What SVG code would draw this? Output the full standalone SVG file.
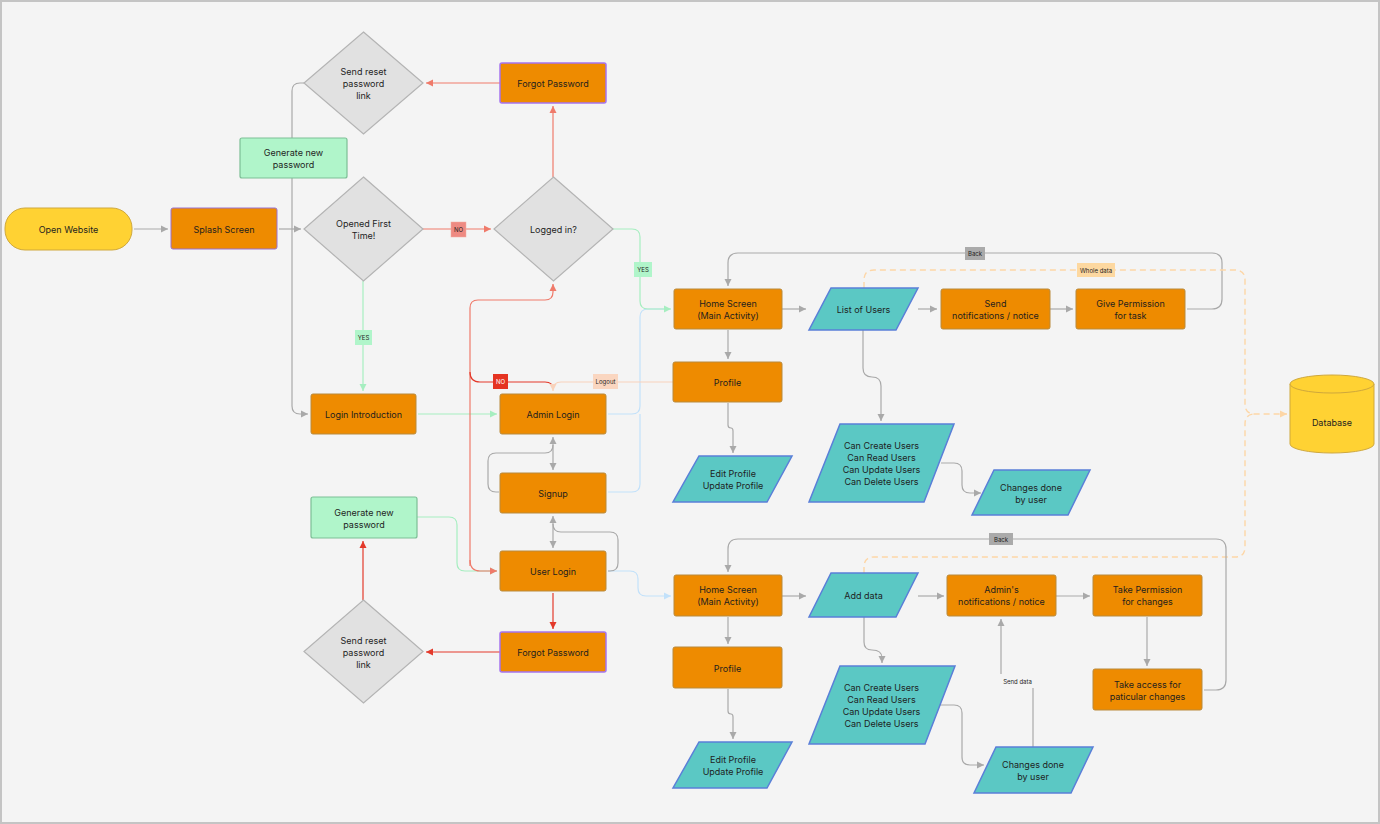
<svg xmlns="http://www.w3.org/2000/svg" width="1380" height="824" viewBox="0 0 1380 824">
<defs>
<style>
text{font-family:Inter,"Noto Sans","Liberation Sans",sans-serif;font-size:9px;fill:#1e1e1e;text-anchor:middle;dominant-baseline:central}
.lbl{font-size:6px}
.or{fill:#ee8b00;stroke:#b98a3c;stroke-width:1}
.pu{fill:#ee8b00;stroke:#a574ee;stroke-width:1.5}
.te{fill:#5bc8c4;stroke:#5a7fd8;stroke-width:1.5}
.di{fill:#e1e1e1;stroke:#b4b4b4;stroke-width:1.2}
.gr{fill:#b0f5ca;stroke:#7cbf95;stroke-width:1.2}
.ye{fill:#ffd233;stroke:#cfa83c;stroke-width:1}
.c{fill:none;stroke-width:1.2}
.g{stroke:#a9a9a9}
.s{stroke:#ef7a6a}
.r{stroke:#e3392a}
.n{stroke:#a6eec0}
.b{stroke:#c2e1fa}
.p{stroke:#f8d2bb}
.d{stroke:#fdd6a6;stroke-dasharray:6 4;stroke-width:1.4}
</style>
<marker id="ag" markerUnits="userSpaceOnUse" markerWidth="8" markerHeight="8" refX="7" refY="4" orient="auto-start-reverse"><path d="M0,0.5 L7,4 L0,7.5 z" fill="#a9a9a9"/></marker>
<marker id="as" markerUnits="userSpaceOnUse" markerWidth="8" markerHeight="8" refX="7" refY="4" orient="auto"><path d="M0,0.5 L7,4 L0,7.5 z" fill="#ef7a6a"/></marker>
<marker id="ar" markerUnits="userSpaceOnUse" markerWidth="8" markerHeight="8" refX="7" refY="4" orient="auto"><path d="M0,0.5 L7,4 L0,7.5 z" fill="#e3392a"/></marker>
<marker id="an" markerUnits="userSpaceOnUse" markerWidth="8" markerHeight="8" refX="7" refY="4" orient="auto"><path d="M0,0.5 L7,4 L0,7.5 z" fill="#a6eec0"/></marker>
<marker id="ab" markerUnits="userSpaceOnUse" markerWidth="8" markerHeight="8" refX="7" refY="4" orient="auto"><path d="M0,0.5 L7,4 L0,7.5 z" fill="#c2e1fa"/></marker>
<marker id="ap" markerUnits="userSpaceOnUse" markerWidth="8" markerHeight="8" refX="7" refY="4" orient="auto"><path d="M0,0.5 L7,4 L0,7.5 z" fill="#f8d2bb"/></marker>
<marker id="ad" markerUnits="userSpaceOnUse" markerWidth="8" markerHeight="8" refX="7" refY="4" orient="auto"><path d="M0,0.5 L7,4 L0,7.5 z" fill="#fdd6a6"/></marker>
</defs>
<rect x="1" y="1" width="1378" height="822" fill="#f4f4f4" stroke="#c4c4c4" stroke-width="2"/>

<g id="connectors">
<path class="c g" d="M134 229 H168" marker-end="url(#ag)"/>
<path class="c g" d="M279 229 H301" marker-end="url(#ag)"/>
<path class="c g" d="M304 83 H300 Q292 83 292 91 V406 Q292 414 300 414 H308" marker-end="url(#ag)"/>
<path class="c s" d="M423 229 H491" marker-end="url(#as)"/>
<path class="c n" d="M363 281 V391" marker-end="url(#an)"/>
<path class="c s" d="M553 177 V106" marker-end="url(#as)"/>
<path class="c s" d="M500 83 H426" marker-end="url(#as)"/>
<path class="c b" d="M608 414 H632 Q640 414 640 406 V317 Q640 309 648 309 H665"/>
<path class="c b" d="M608 492 H632 Q640 492 640 484 V414"/>
<path class="c n" d="M613 229 H632 Q640 229 640 237 V301 Q640 309 648 309 H671" marker-end="url(#an)"/>
<path class="c n" d="M418 414 H497" marker-end="url(#an)"/>
<path class="c b" d="M608 571 H630 Q638 571 638 579 V588 Q638 596 646 596 H671" marker-end="url(#ab)"/>
<path class="c n" d="M417 517 H449 Q457 517 457 525 V563 Q457 571 465 571 H497" marker-end="url(#an)"/>
<path class="c s" d="M470 566 V308 Q470 300 478 300 H545 Q553 300 553 292 V284" marker-end="url(#as)"/>
<path class="c s" d="M470 560 Q470 571 480 571 H497" marker-end="url(#as)"/>
<path class="c r" d="M470 372 Q470 382 480 382 H545 Q553 382 553 389"/>
<path class="c p" d="M673 382 H561 Q553 382 553 390 V391" marker-end="url(#ap)"/>
<path class="c g" d="M553 437 V470" marker-start="url(#ag)" marker-end="url(#ag)"/>
<path class="c g" d="M499 492 H496 Q488 492 488 484 V461 Q488 453 496 453 H545 Q553 453 553 445"/>
<path class="c g" d="M553 516 V548" marker-start="url(#ag)" marker-end="url(#ag)"/>
<path class="c g" d="M608 571 H610 Q618 571 618 563 V540 Q618 532 610 532 H561 Q553 532 553 524"/>
<path class="c r" d="M553 593 V629" marker-end="url(#ar)"/>
<path class="c r" d="M500 652 H426" marker-end="url(#ar)"/>
<path class="c r" d="M363 600 V541" marker-end="url(#ar)"/>

<path class="c g" d="M782 309 H806" marker-end="url(#ag)"/>
<path class="c g" d="M918 309 H937" marker-end="url(#ag)"/>
<path class="c g" d="M1050 309 H1073" marker-end="url(#ag)"/>
<path class="c g" d="M728 330 V359" marker-end="url(#ag)"/>
<path class="c g" d="M728 403 V425 Q728 428 731 428 Q733 428 733 431 V453" marker-end="url(#ag)"/>
<path class="c g" d="M863 330 V368 Q863 377 872 377 Q881 377 881 386 V421" marker-end="url(#ag)"/>
<path class="c g" d="M941 463 H954 Q962 463 962 471 V485 Q962 493 970 493 H981" marker-end="url(#ag)"/>
<path class="c g" d="M1187 309 H1212 Q1222 309 1222 299 V263 Q1222 253 1212 253 H738 Q728 253 728 263 V286" marker-end="url(#ag)"/>
<path class="c d" d="M864 288 V280 Q864 270 874 270 H1235 Q1245 270 1245 280 V404 Q1245 414 1255 414 H1287" marker-end="url(#ad)"/>
<path class="c d" d="M864 573 V567 Q864 557 874 557 H1235 Q1245 557 1245 547 V424 Q1245 414 1255 414"/>

<path class="c g" d="M782 596 H806" marker-end="url(#ag)"/>
<path class="c g" d="M918 596 H944" marker-end="url(#ag)"/>
<path class="c g" d="M1056 596 H1090" marker-end="url(#ag)"/>
<path class="c g" d="M728 617 V644" marker-end="url(#ag)"/>
<path class="c g" d="M728 689 V711 Q728 714 731 714 Q733 714 733 717 V739" marker-end="url(#ag)"/>
<path class="c g" d="M864 617 V642 Q864 650 872 650 Q882 650 882 658 V663" marker-end="url(#ag)"/>
<path class="c g" d="M940 705 H954 Q962 705 962 713 V757 Q962 765 970 765 H984" marker-end="url(#ag)"/>
<path class="c g" d="M1033 747 V681 H1001 V619" marker-end="url(#ag)"/>
<path class="c g" d="M1147 617 V666" marker-end="url(#ag)"/>
<path class="c g" d="M1204 690 H1216 Q1226 690 1226 680 V549 Q1226 539 1216 539 H738 Q728 539 728 549 V572" marker-end="url(#ag)"/>

<g id="labels">
<rect x="451" y="222" width="15" height="15" fill="#ee8a82" stroke="#f2aaa0" stroke-width="0.5"/><text class="lbl" x="458.5" y="229.5">NO</text>
<rect x="355" y="330" width="17" height="15" fill="#b0f5ca"/><text class="lbl" x="363.5" y="337.5">YES</text>
<rect x="634" y="262" width="18" height="15" fill="#b0f5ca"/><text class="lbl" x="643" y="269.5">YES</text>
<rect x="493" y="374" width="15" height="15" fill="#e53422"/><text class="lbl" x="500.5" y="381.5" style="fill:#fff">NO</text>
<rect x="593" y="374" width="25" height="15" fill="#fad6c0"/><text class="lbl" x="605.5" y="381.5">Logout</text>
<rect x="965" y="247" width="20" height="13" fill="#aaaaaa"/><text class="lbl" x="975" y="253.5">Back</text>
<rect x="1077" y="263" width="38" height="14" fill="#fdd8a0"/><text class="lbl" x="1096" y="270">Whole data</text>
<rect x="989" y="533" width="24" height="12" fill="#aaaaaa"/><text class="lbl" x="1001" y="539">Back</text>
<rect x="1000" y="674" width="35" height="14" fill="#f4f4f4"/><text class="lbl" x="1017.5" y="681">Send data</text>
</g>
</g>

<g id="open-website"><rect class="ye" x="5" y="208" width="127" height="42" rx="20"/><text x="68.5" y="229">Open Website</text></g>
<g id="splash-screen"><rect class="pu" x="171" y="208" width="106" height="41" rx="2" style="stroke:#9a70d0;stroke-width:1"/><text x="224" y="229">Splash Screen</text></g>
<g id="send-reset-top"><polygon class="di" points="363.5,32 423,83 363.5,134 304,83"/><text x="363.5" y="71">Send reset</text><text x="363.5" y="83">password</text><text x="363.5" y="95">link</text></g>
<g id="gen-pw-top"><rect class="gr" x="240" y="138" width="107" height="40" rx="2"/><text x="293.5" y="152">Generate new</text><text x="293.5" y="164">password</text></g>
<g id="opened-first"><polygon class="di" points="363.5,177 423,229 363.5,281 304,229"/><text x="363.5" y="223">Opened First</text><text x="363.5" y="235">Time!</text></g>
<g id="forgot-top"><rect class="pu" x="500" y="63" width="106" height="40" rx="2"/><text x="553" y="83">Forgot Password</text></g>
<g id="logged-in"><polygon class="di" points="553.5,177 613,229 553.5,281 494,229"/><text x="553.5" y="229">Logged in?</text></g>
<g id="login-intro"><rect class="or" x="311" y="394" width="105" height="40" rx="2"/><text x="363.5" y="414">Login Introduction</text></g>
<g id="admin-login"><rect class="or" x="500" y="394" width="106" height="40" rx="2"/><text x="553" y="414">Admin Login</text></g>
<g id="signup"><rect class="or" x="500" y="473" width="106" height="40" rx="2"/><text x="553" y="493">Signup</text></g>
<g id="gen-pw-bottom"><rect class="gr" x="311" y="497" width="106" height="41" rx="2"/><text x="364" y="512">Generate new</text><text x="364" y="524">password</text></g>
<g id="user-login"><rect class="or" x="500" y="551" width="106" height="40" rx="2"/><text x="553" y="571">User Login</text></g>
<g id="forgot-bottom"><rect class="pu" x="500" y="632" width="106" height="40" rx="2"/><text x="553" y="652">Forgot Password</text></g>
<g id="send-reset-bottom"><polygon class="di" points="363.5,600 423,651.5 363.5,703 304,651.5"/><text x="363.5" y="640">Send reset</text><text x="363.5" y="652">password</text><text x="363.5" y="664">link</text></g>

<g id="home-top"><rect class="or" x="674" y="289" width="108" height="40" rx="2"/><text x="728" y="303">Home Screen</text><text x="728" y="315">(Main Activity)</text></g>
<g id="list-users"><polygon class="te" points="831,288 918,288 896,330 809,330"/><text x="863.5" y="309">List of Users</text></g>
<g id="send-notif"><rect class="or" x="941" y="289" width="109" height="40" rx="2"/><text x="995.5" y="303">Send</text><text x="995.5" y="315">notifications / notice</text></g>
<g id="give-perm"><rect class="or" x="1076" y="289" width="109" height="40" rx="2"/><text x="1130.5" y="303">Give Permission</text><text x="1130.5" y="315">for task</text></g>
<g id="profile-top"><rect class="or" x="673" y="362" width="109" height="40" rx="2"/><text x="727.5" y="382">Profile</text></g>
<g id="edit-profile-top"><polygon class="te" points="699,456 792,456 767,502 673,502"/><text x="733" y="473">Edit Profile</text><text x="733" y="485">Update Profile</text></g>
<g id="crud-top"><polygon class="te" points="840,424 954,424 924,502 809,502"/><text x="881.5" y="445">Can Create Users</text><text x="881.5" y="457">Can Read Users</text><text x="881.5" y="469">Can Update Users</text><text x="881.5" y="481">Can Delete Users</text></g>
<g id="changes-top"><polygon class="te" points="994,470 1090,470 1068,515 972,515"/><text x="1031" y="487">Changes done</text><text x="1031" y="499">by user</text></g>

<g id="home-bottom"><rect class="or" x="674" y="575" width="108" height="41" rx="2"/><text x="728" y="589">Home Screen</text><text x="728" y="601">(Main Activity)</text></g>
<g id="add-data"><polygon class="te" points="831,573 918,573 896,617 809,617"/><text x="863.5" y="595">Add data</text></g>
<g id="admin-notif"><rect class="or" x="947" y="575" width="109" height="41" rx="2"/><text x="1001.5" y="589">Admin's</text><text x="1001.5" y="601">notifications / notice</text></g>
<g id="take-perm"><rect class="or" x="1093" y="575" width="109" height="41" rx="2"/><text x="1147.5" y="589">Take Permission</text><text x="1147.5" y="601">for changes</text></g>
<g id="profile-bottom"><rect class="or" x="673" y="647" width="109" height="41" rx="2"/><text x="727.5" y="668">Profile</text></g>
<g id="take-access"><rect class="or" x="1093" y="669" width="109" height="41" rx="2"/><text x="1147.5" y="684">Take access for</text><text x="1147.5" y="696">paticular changes</text></g>
<g id="edit-profile-bottom"><polygon class="te" points="699,742 792,742 767,788 673,788"/><text x="733" y="759">Edit Profile</text><text x="733" y="771">Update Profile</text></g>
<g id="crud-bottom"><polygon class="te" points="840,666 955,666 925,744 809,744"/><text x="881.5" y="687">Can Create Users</text><text x="881.5" y="699">Can Read Users</text><text x="881.5" y="711">Can Update Users</text><text x="881.5" y="723">Can Delete Users</text></g>
<g id="changes-bottom"><polygon class="te" points="996,747 1093,747 1071,793 974,793"/><text x="1033" y="764">Changes done</text><text x="1033" y="776">by user</text></g>

<g id="database">
<path class="ye" d="M1290 384 V444 A42 9 0 0 0 1374 444 V384"/>
<ellipse class="ye" cx="1332" cy="384" rx="42" ry="9"/>
<text x="1332" y="422">Database</text>
</g>
</svg>
